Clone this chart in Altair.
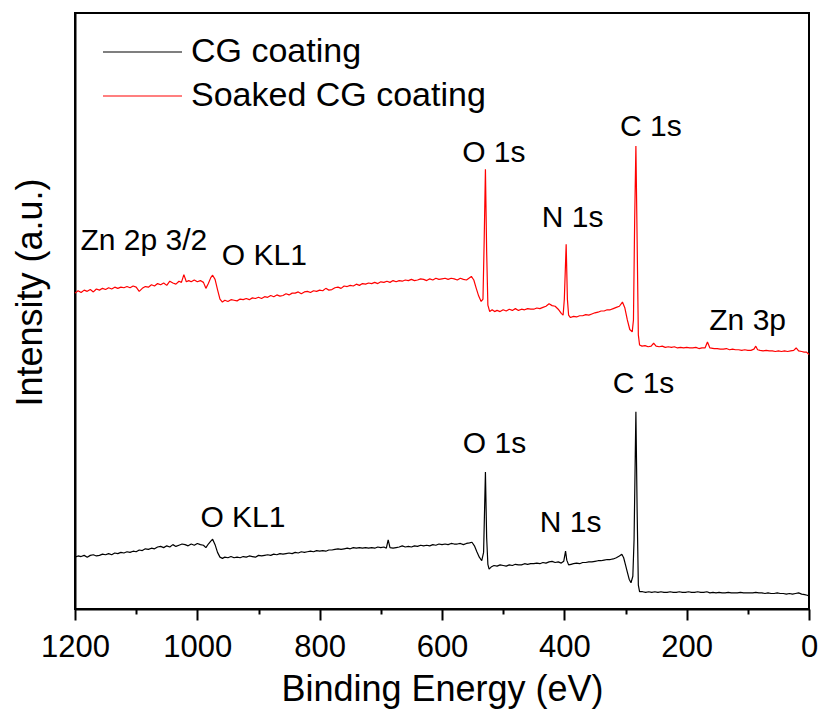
import altair as alt
import pandas as pd

FONT = "Liberation Sans"

# ---- data (binding energy in eV, intensity in a.u.) ----
cg_ev = [1200,1195,1190,1185,1180,1175,1170,1165,1160,1155,1150,1145,1140,1135,1130,1125,1120,1115,1110,1105,
         1100,1095,1090,1085,1080,1075,1070,1065,1060,1055,1050,1045,1040,1035,1030,1025,1020,1015,1010,1005,
         1000,995,990,986,982,978,975,971,967,963,959,955,950,945,940,935,930,925,920,915,910,905,900,895,890,
         885,880,875,870,865,860,855,850,845,840,835,830,825,820,815,810,805,800,795,790,785,780,775,770,765,
         760,755,750,745,740,735,730,725,720,715,710,705,700,695,691,688,685,680,675,670,665,660,655,650,645,
         640,635,630,625,620,615,610,605,600,595,590,585,580,575,570,565,560,555,551,547,543,539,535,532,529,
         527,525,523,519,515,510,505,500,495,490,485,480,475,470,465,460,455,450,445,440,435,430,425,420,415,
         410,405,401,398,396,393,389,385,380,375,370,365,360,355,350,345,340,335,330,325,320,315,310,306,303,
         300,297,294,291,288,286,284,283,281,279,277,272,267,262,257,252,247,242,237,232,227,222,217,212,207,
         202,197,192,187,182,177,172,167,162,157,152,147,142,137,132,127,122,117,112,107,102,97,92,87,82,77,
         72,67,62,57,52,47,42,37,32,27,22,17,12,7,3,0]
cg_int = [8.7,8.9,8.8,9.0,8.7,9.0,9.1,8.9,9.0,9.2,9.1,9.3,9.1,9.4,9.3,9.5,9.4,9.6,9.5,9.7,
          9.6,9.9,9.8,10.1,10.0,10.2,10.1,10.4,10.5,10.3,10.6,10.4,10.8,10.5,10.7,10.9,10.8,10.6,10.9,10.7,
          11.0,10.8,10.7,10.3,10.9,11.4,11.7,10.8,9.5,8.7,8.5,8.7,8.6,8.8,8.6,8.7,8.6,8.8,8.7,8.9,8.8,8.7,9.0,8.9,9.0,
          9.1,9.0,9.2,9.1,9.3,9.2,9.3,9.4,9.3,9.5,9.4,9.6,9.5,9.6,9.7,9.6,9.8,9.7,9.8,9.7,9.9,9.9,10.0,10.1,10.0,
          10.1,10.2,10.1,10.3,10.2,10.3,10.2,10.3,10.2,10.3,10.2,10.4,10.3,10.4,10.2,11.6,10.3,10.2,10.3,10.4,10.6,10.4,10.5,10.4,10.6,
          10.5,10.7,10.6,10.7,10.6,10.8,10.7,10.9,10.8,10.9,10.8,11.0,10.9,10.9,11.0,10.8,11.0,11.1,11.2,10.6,9.6,8.7,8.1,9.5,23.0,
          12.0,7.5,6.7,7.1,7.3,7.2,7.4,7.3,7.2,7.4,7.3,7.5,7.4,7.4,7.6,7.5,7.6,7.6,7.7,7.6,7.8,7.7,7.9,8.0,7.8,
          7.9,7.7,8.0,9.7,8.2,7.4,7.5,7.6,7.7,7.6,7.8,7.8,7.9,7.9,8.0,8.1,8.1,8.2,8.3,8.3,8.4,8.6,8.9,9.2,8.6,
          7.4,6.2,5.0,4.4,5.5,11.6,26.0,33.1,16.6,4.0,2.9,2.9,2.8,2.9,2.8,2.9,2.8,2.9,2.8,2.8,2.9,2.8,2.8,2.9,2.8,
          2.8,2.9,2.8,2.8,2.9,2.8,2.8,2.9,2.7,2.8,2.7,2.8,2.7,2.7,2.8,2.7,2.7,2.7,2.8,2.7,2.7,2.7,2.7,2.8,2.7,2.7,
          2.6,2.7,2.6,2.6,2.7,2.6,2.6,2.5,2.6,2.5,2.6,2.7,2.5,2.4,2.3,2.2]

soaked_ev = [1200,1195,1190,1185,1180,1175,1170,1165,1160,1155,1150,1145,1140,1135,1130,1125,1120,1115,1110,1105,
             1100,1095,1090,1085,1080,1075,1070,1065,1060,1055,1050,1045,1040,1035,1030,1026,1022,1018,1014,1010,
             1005,1000,995,990,986,982,978,975,971,967,963,959,955,950,945,940,935,930,925,920,915,910,905,900,895,
             890,885,880,875,870,865,860,855,850,845,840,835,830,825,820,815,810,805,800,795,790,785,780,775,770,
             765,760,755,750,745,740,735,730,725,720,715,710,705,700,695,690,685,680,675,670,665,660,655,650,645,
             640,635,630,625,620,615,610,605,600,595,590,585,580,575,570,565,560,556,552,548,544,540,536,533,531,
             529,527,525,522,518,514,510,505,500,495,490,485,480,475,470,465,460,455,450,445,440,435,430,425,420,
             415,410,405,402,400,397,395,393,390,385,380,375,370,365,360,355,350,345,340,335,330,325,320,315,310,
             305,301,297,293,289,287,285,283,281,279,277,273,268,263,258,254,250,245,240,235,230,225,220,215,210,
             205,200,195,190,185,180,175,170,166,162,155,150,145,140,135,130,125,120,115,110,105,100,95,90,87,84,
             80,75,70,65,60,55,50,45,40,35,30,25,21,17,12,8,4,0]
soaked_int = [53.0,53.4,53.1,53.5,53.3,53.6,53.2,53.7,53.5,53.8,53.6,53.9,53.7,54.0,53.8,54.0,53.9,54.1,53.9,54.2,
              54.0,53.3,53.8,54.1,54.0,54.4,54.2,54.6,54.4,54.7,54.3,55.0,54.7,54.5,55.0,54.8,56.1,54.9,55.1,54.9,
              55.2,54.9,55.1,54.8,53.8,54.6,55.6,56.0,55.3,53.6,52.0,51.5,51.8,51.6,51.9,51.8,51.7,52.0,51.9,52.1,51.9,52.2,52.1,52.3,52.1,
              52.4,52.3,52.6,52.4,52.7,52.5,52.6,52.9,52.7,53.0,53.0,53.2,52.9,53.2,53.3,53.1,53.4,53.3,53.5,53.4,53.8,53.5,53.6,53.9,54.0,
              53.8,54.2,54.1,54.3,54.2,54.5,54.3,54.6,54.5,54.7,54.6,54.8,54.6,54.9,54.8,55.0,54.8,55.1,54.9,55.1,55.0,55.2,55.1,55.3,55.1,
              55.2,55.4,55.3,55.1,55.4,55.2,55.5,55.3,55.4,55.5,55.3,55.5,55.4,55.2,55.5,55.3,55.2,55.5,55.8,55.2,53.8,52.5,51.6,52.0,62.0,
              73.8,60.0,51.0,49.9,50.2,49.9,50.1,49.9,50.2,50.0,50.3,50.1,50.4,50.1,50.3,50.2,50.4,50.3,50.3,50.5,50.4,50.6,50.8,51.2,50.9,
              50.8,50.3,49.6,49.3,52.0,61.2,52.0,49.3,48.9,49.1,49.0,49.2,49.2,49.4,49.3,49.5,49.7,49.8,50.0,50.0,50.2,50.2,50.4,50.6,50.8,
              51.5,50.5,48.5,46.9,46.5,48.5,65.3,77.7,61.9,46.0,44.3,44.1,44.2,44.0,44.1,44.6,44.1,44.0,44.1,43.9,44.0,43.9,44.0,43.8,43.9,
              43.8,43.9,43.8,43.8,43.9,43.7,43.8,43.8,44.8,43.8,43.7,43.7,43.6,43.6,43.7,43.5,43.6,43.5,43.5,43.4,43.5,43.4,43.4,43.6,44.1,43.5,
              43.4,43.3,43.4,43.3,43.3,43.2,43.3,43.2,43.3,43.2,43.3,43.4,43.8,43.3,43.2,43.1,43.1,42.7]

series_names = ["CG coating", "Soaked CG coating"]
series_colors = ["black", "red"]

# peak annotations: text, binding energy of the label's left edge, intensity of its baseline
ann_text = ["Zn 2p 3/2", "O KL1", "O 1s", "N 1s", "C 1s", "Zn 3p",
            "O KL1", "O 1s", "N 1s", "C 1s"]
ann_ev = [1191, 960, 567, 437, 309, 163, 995, 566, 440, 321]
ann_int = [60.2, 57.7, 75.0, 64.1, 79.4, 46.8, 13.8, 26.2, 13.0, 36.2]

major_ticks = [0, 200, 400, 600, 800, 1000, 1200]
minor_ticks = [100, 300, 500, 700, 900, 1100]

# ---- tables ----
df = pd.concat([
    pd.DataFrame({"ev": cg_ev, "intensity": cg_int, "series": series_names[0]}),
    pd.DataFrame({"ev": soaked_ev, "intensity": soaked_int, "series": series_names[1]}),
])
ann = pd.DataFrame({"label": ann_text, "ev": ann_ev, "intensity": ann_int})
minor = pd.DataFrame({"ev": minor_ticks})

xscale = alt.Scale(domain=[0, 1200], reverse=True, nice=False, zero=False)
yscale = alt.Scale(domain=[0, 100], nice=False, zero=False)

yaxis = alt.Axis(ticks=False, labels=False, domain=True, grid=False,
                 title="Intensity (a.u.)", orient="left",
                 titleFontSize=36, titleFontWeight="normal", titlePadding=26,
                 titleY=279)

lines = alt.Chart(df).mark_line(strokeWidth=1.2, strokeJoin="bevel").encode(
    x=alt.X("ev:Q", scale=xscale,
            axis=alt.Axis(values=major_ticks, orient="bottom", format="d",
                          title="Binding Energy (eV)", labelFlush=False,
                          tickSize=11, tickWidth=2, labelFontSize=31,
                          labelBaseline="alphabetic", labelPadding=36,
                          titleFontSize=36, titleFontWeight="normal",
                          titleBaseline="alphabetic", titleY=91)),
    y=alt.Y("intensity:Q", scale=yscale, axis=yaxis, title="Intensity (a.u.)"),
    color=alt.Color("series:N",
                    scale=alt.Scale(domain=series_names, range=series_colors),
                    legend=alt.Legend(title=None, orient="none", legendX=27, legendY=19,
                                      symbolType="stroke", symbolSize=6241,
                                      symbolStrokeWidth=1.2, labelFontSize=34,
                                      labelOffset=8, rowPadding=4, padding=0,
                                      clipHeight=40, labelLimit=0)),
)

minor_axis = alt.Chart(minor).mark_point(opacity=0).encode(
    x=alt.X("ev:Q", scale=xscale,
            axis=alt.Axis(values=minor_ticks, orient="bottom", labels=False,
                          domain=False, tickSize=5, tickWidth=2, title=None)),
)

labels = alt.Chart(ann).mark_text(align="left", baseline="alphabetic",
                                  fontSize=30, color="black", font=FONT).encode(
    x=alt.X("ev:Q", scale=xscale, axis=None),
    y=alt.Y("intensity:Q", scale=yscale, axis=yaxis, title="Intensity (a.u.)"),
    text="label:N",
)

chart = alt.layer(lines, minor_axis, labels).resolve_scale(
    x="shared", y="shared"
).resolve_axis(x="independent", y="shared").properties(
    width=734, height=596,
    padding={"left": 75, "top": 13, "right": 15, "bottom": 106},
    autosize="none",
    background="white",
).configure_view(
    stroke="black", strokeWidth=2
).configure_axis(
    grid=False, domainColor="black", domainWidth=2, tickColor="black",
    labelColor="black", titleColor="black", labelFont=FONT, titleFont=FONT,
).configure_legend(
    labelFont=FONT, labelColor="black"
)

chart.save("out.html", embed_options={"renderer": "svg", "actions": False})
